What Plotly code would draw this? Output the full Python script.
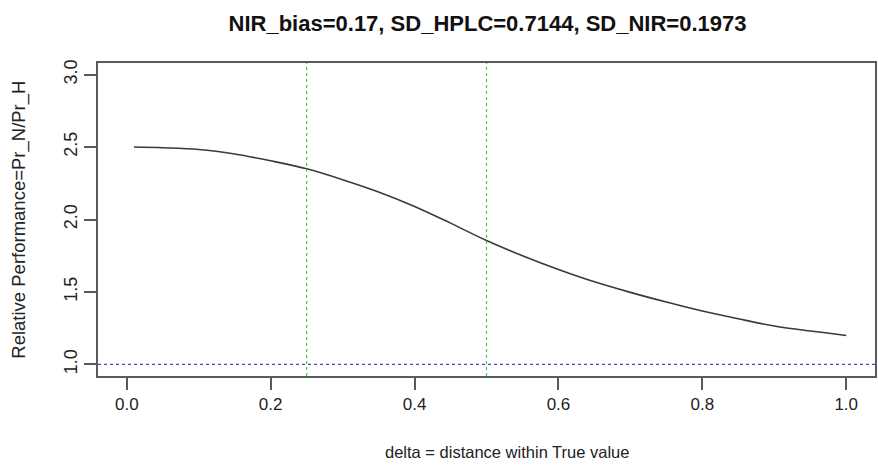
import plotly.graph_objects as go

delta = [0.01, 0.05, 0.10, 0.15, 0.20, 0.25, 0.30, 0.35, 0.40, 0.45, 0.50,
         0.55, 0.60, 0.65, 0.70, 0.75, 0.80, 0.85, 0.90, 0.95, 1.00]
rel_perf = [2.50, 2.495, 2.483, 2.452, 2.405, 2.35, 2.275, 2.19, 2.09, 1.975, 1.855,
            1.75, 1.655, 1.57, 1.497, 1.43, 1.368, 1.315, 1.265, 1.23, 1.20]
vlines = [0.25, 0.50]
hline = 1.0
x_ticks = [0.0, 0.2, 0.4, 0.6, 0.8, 1.0]
y_ticks = [1.0, 1.5, 2.0, 2.5, 3.0]

title = "NIR_bias=0.17, SD_HPLC=0.7144, SD_NIR=0.1973"
xlab = "delta = distance within True value"
ylab = "Relative Performance=Pr_N/Pr_H"

W, H = 878, 471
L, R, T, B = 98, 1, 63, 95
pw, ph = W - L - R, H - T - B
FONT = "Liberation Sans, Arial"

fig = go.Figure()
fig.add_trace(go.Scatter(x=delta, y=rel_perf, mode="lines",
                         line=dict(color="#3a3a3a", width=1.6, shape="spline"),
                         showlegend=False, hoverinfo="skip"))
for v in vlines:
    fig.add_vline(x=v, line=dict(color="#44cc44", width=1.2, dash="dot"))
fig.add_hline(y=hline, line=dict(color="#4444cc", width=1.2, dash="dot"))

axis_common = dict(showgrid=False, zeroline=False, showline=True, mirror=True,
                   linecolor="#5a5a5a", linewidth=1.5, ticks="outside", ticklen=12,
                   tickcolor="#5a5a5a", tickwidth=1.5)

fig.update_layout(
    width=W, height=H,
    margin=dict(l=L, r=R, t=T, b=B),
    paper_bgcolor="white", plot_bgcolor="white",
    title=dict(text="<b>" + title + "</b>", x=(L + pw / 2) / W, xanchor="center",
               y=1 - 23 / H, yanchor="middle",
               font=dict(family=FONT, size=22, color="#111111")),
    xaxis=dict(range=[-0.04, 1.04], tickvals=x_ticks,
               ticktext=[f"{t:.1f}" for t in x_ticks],
               tickfont=dict(family=FONT, size=17, color="#222222"), **axis_common),
    yaxis=dict(range=[0.92, 3.08], tickvals=y_ticks,
               ticktext=[f"{t:.1f}" for t in y_ticks], tickangle=-90,
               tickfont=dict(family=FONT, size=18, color="#222222"), **axis_common),
    annotations=[
        dict(text=xlab, xref="paper", yref="paper", x=(508 - L) / pw, y=(376 - 452) / ph,
             xanchor="center", yanchor="middle", showarrow=False,
             font=dict(family=FONT, size=16.5, color="#222222")),
        dict(text=ylab, xref="paper", yref="paper", x=(18 - L) / pw, y=0.5,
             xanchor="center", yanchor="middle", showarrow=False, textangle=-90,
             font=dict(family=FONT, size=18.5, color="#222222")),
    ],
)

fig.write_html("out.html")
